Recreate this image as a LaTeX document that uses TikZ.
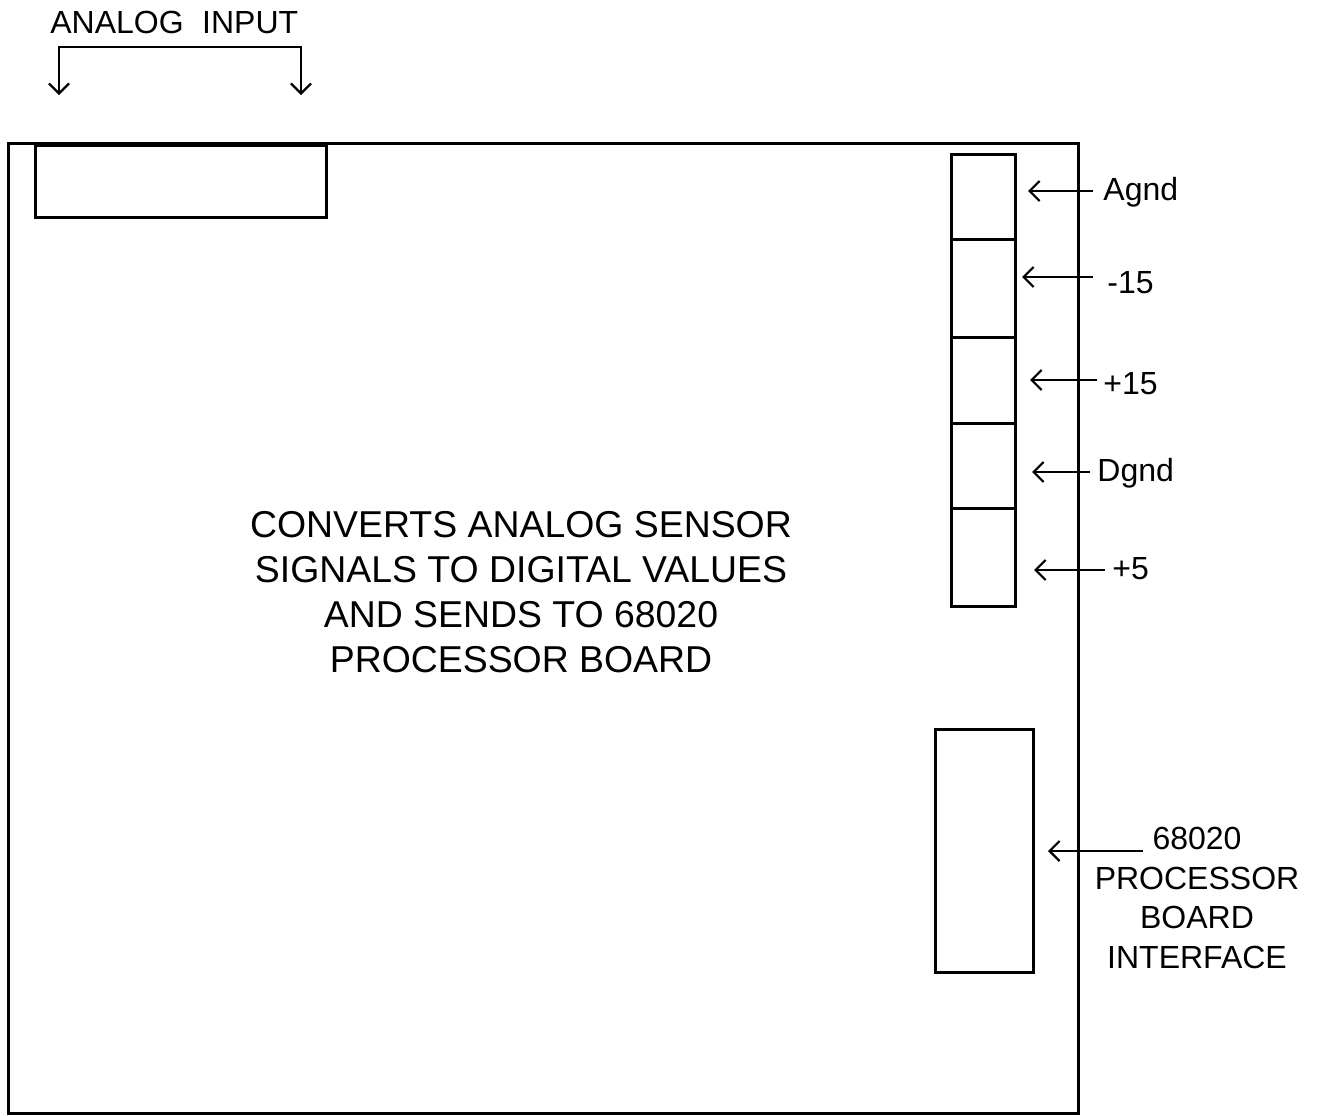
\documentclass[tikz,border=0pt]{standalone}
\usepackage{fontspec}
\setmainfont{Liberation Sans}
\usetikzlibrary{arrows.meta}
\begin{document}
\begin{tikzpicture}[x=0.5pt,y=-0.5pt,
  board/.style={draw,line width=1.5pt,inner sep=0pt,outer sep=0pt},
  conn/.style={draw,line width=1.5pt,inner sep=0pt,outer sep=0pt},
  tip/.style={Straight Barb[length=5pt,width=10pt,line width=1.1pt]},
  arr/.style={line width=1pt,-{Straight Barb[length=5pt,width=10pt,line width=1.1pt]}},
  lbl/.style={inner sep=0pt,font=\fontsize{16}{19.8}\selectfont},
  big/.style={inner sep=0pt,align=center,font=\fontsize{18.7}{22.5}\selectfont}]
\useasboundingbox (0,0) rectangle (1320,1115);
% board
\node[board,minimum width=535pt,minimum height=485pt] (board) at (543,628) {};
% analog input connector
\node[conn,minimum width=145.5pt,minimum height=36pt] (ain) at (180.5,181) {};
\node[lbl,anchor=west] (ailbl) at (50,22) {ANALOG\hspace{0.3em} INPUT};
\coordinate (ba) at (59,95);
\coordinate (bt) at (180,47);
\coordinate (bb) at (301,95);
\draw[line width=1pt,{Straight Barb[length=5pt,width=10pt,line width=1.1pt]}-{Straight Barb[length=5pt,width=10pt,line width=1.1pt]}] (ba) |- (bt) -| (bb);
% power connector stack
\node[conn,minimum width=32pt,minimum height=42.5pt] (b1) at (983,196.5) {};
\node[conn,minimum width=32pt,minimum height=49pt] (b2) at (983,288) {};
\node[conn,minimum width=32pt,minimum height=43pt] (b3) at (983,380) {};
\node[conn,minimum width=32pt,minimum height=42.5pt] (b4) at (983,465.5) {};
\node[conn,minimum width=32pt,minimum height=49pt] (b5) at (983,557) {};
% interface connector
\node[conn,minimum width=49pt,minimum height=121.5pt] (ifc) at (984,850.5) {};
% labels
\node[lbl,anchor=west] (l1) at (1103,192) {Agnd};
\node[lbl,anchor=west] (l2) at (1107,283) {-15};
\node[lbl,anchor=west] (l3) at (1103,384) {+15};
\node[lbl,anchor=west] (l4) at (1097,473) {Dgnd};
\node[lbl,anchor=west] (l5) at (1112,569) {+5};
\node[lbl,align=center] (l6) at (1197,898) {68020\\PROCESSOR\\BOARD\\INTERFACE};
% arrows
\coordinate (s1) at (1093,191);
\coordinate (s2) at (1093,277);
\coordinate (s3) at (1097,380);
\coordinate (s4) at (1090,472);
\coordinate (s5) at (1105,570);
\coordinate (s6) at (1143,851);
\draw[arr,shorten >=6.5pt] (s1) -- (s1 -| b1.east);
\draw[arr,shorten >=3.5pt] (s2) -- (s2 -| b2.east);
\draw[arr,shorten >=7.5pt] (s3) -- (s3 -| b3.east);
\draw[arr,shorten >=8.5pt] (s4) -- (s4 -| b4.east);
\draw[arr,shorten >=9.5pt] (s5) -- (s5 -| b5.east);
\draw[arr,shorten >=7.5pt] (s6) -- (s6 -| ifc.east);
% central text
\node[big] (desc) at (521,592) {CONVERTS ANALOG SENSOR\\SIGNALS TO DIGITAL VALUES\\AND SENDS TO 68020\\PROCESSOR BOARD};
\end{tikzpicture}
\end{document}
